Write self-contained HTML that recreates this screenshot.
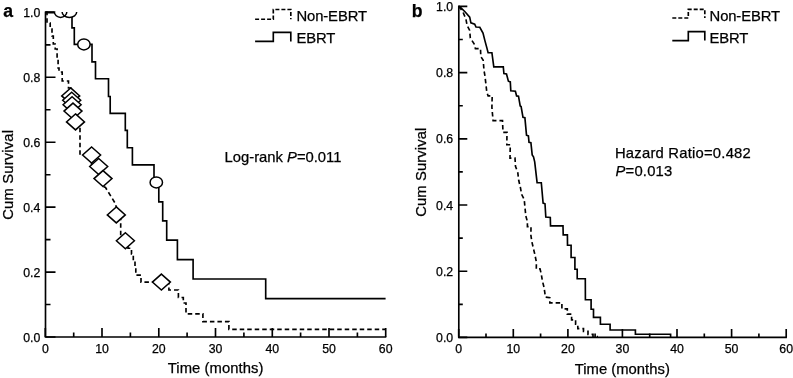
<!DOCTYPE html>
<html><head><meta charset="utf-8"><title>Survival curves</title>
<style>
html,body{margin:0;padding:0;background:#fff;}
svg{display:block;}
text{font-family:"Liberation Sans",Arial,Helvetica,sans-serif;fill:#000;stroke:#000;stroke-width:0.25px;}
.t{font-size:12.3px;}
.l{font-size:14.8px;}
.b{font-size:17.6px;font-weight:bold;}
.ln{fill:none;stroke:#000;stroke-width:1.65;}
.ds{stroke-dasharray:4.5 3;}
.mk{fill:#fff;stroke:#000;stroke-width:1.5;}
</style></head><body>
<svg width="793" height="378" viewBox="0 0 793 378">
<rect width="793" height="378" fill="#fff"/>
<defs><clipPath id="ca"><rect x="40" y="12" width="360" height="330"/></clipPath></defs>

<g id="panel-a">
<path class="ln" d="M45.5,11.475000000000001V337H386.3"/>
<path class="ln" d="M45.5,12.3h10M45.5,44.8h5M45.5,77.2h10M45.5,109.7h5M45.5,142.2h10M45.5,174.7h5M45.5,207.1h10M45.5,239.6h5M45.5,272.1h10M45.5,304.5h5M45.5,337.0h10M45.3,337v-9M73.7,337v-4.5M102.0,337v-9M130.4,337v-4.5M158.8,337v-9M187.1,337v-4.5M215.5,337v-9M243.9,337v-4.5M272.3,337v-9M300.6,337v-4.5M329.0,337v-9M357.4,337v-4.5M385.7,337v-9"/>
<path class="ln ds" d="M45.5,12.3H47V23H50.2V29H52V36H53.3V44H55.2V49H57.1V58H58.1V68H59V72H62.2V81H68.5V88H70.7V96H71.7V100.3H72.1V104.7H73V111.1H75.5V121.9H80V154.9H91.6V166.5H98.7V178.6H103V186.5L105.5,187.5L115,203L116.3,207V214.9H120.7V240.8H128V248.2H131.5V254H133.3V261H135V269H135.8V275.1H141V282.1H168.9V290H178.4V297.5H183.3V303H186V313.8H202.9V321.6H228.9V329.3H385.6"/>
<path class="ln" d="M45.5,12.3H54.6M72,16V27.9H74.3V44.4H92V61.8H95.5V78.7H108.5V96.5H110.2V113.4H125.3V130.4H127.3V147.7H132.4V164.9H154V182.4H158.8V201.8H162.7V220.8H166.7V240.1H177.4V259.6H193.1V279H265.7V298.6H385.6"/>
<g clip-path="url(#ca)"><ellipse fill="#fff" cx="60.6" cy="11.9" rx="6.2" ry="5.5"/><ellipse fill="#fff" cx="69.4" cy="11.9" rx="7.3" ry="5.5"/><ellipse class="mk" style="fill:none" cx="60.6" cy="11.9" rx="6.2" ry="5.5"/><ellipse class="mk" style="fill:none" cx="69.4" cy="11.9" rx="7.3" ry="5.5"/></g>
<path class="ln" d="M45.5,12.3H54.6"/>
<ellipse class="mk" cx="83.9" cy="44.4" rx="6.2" ry="5.5"/>
<ellipse class="mk" cx="156.3" cy="182.4" rx="6.2" ry="5.5"/>
<path class="mk" d="M70.7,87.9L79.7,95.9L70.7,103.9L61.7,95.9Z"/>
<path class="mk" d="M71.7,92.3L80.7,100.3L71.7,108.3L62.7,100.3Z"/>
<path class="mk" d="M72.1,96.7L81.1,104.7L72.1,112.7L63.099999999999994,104.7Z"/>
<path class="mk" d="M73,103.1L82,111.1L73,119.1L64,111.1Z"/>
<path class="mk" d="M75.5,113.9L84.5,121.9L75.5,129.9L66.5,121.9Z"/>
<path class="mk" d="M91.6,147L100.6,155L91.6,163L82.6,155Z"/>
<path class="mk" d="M98.7,158.5L107.7,166.5L98.7,174.5L89.7,166.5Z"/>
<path class="mk" d="M103,170.6L112,178.6L103,186.6L94,178.6Z"/>
<path class="mk" d="M116.3,206.9L125.3,214.9L116.3,222.9L107.3,214.9Z"/>
<path class="mk" d="M125.4,232.8L134.4,240.8L125.4,248.8L116.4,240.8Z"/>
<path class="mk" d="M161.4,274.1L170.4,282.1L161.4,290.1L152.4,282.1Z"/>
<text class="b" x="3.15" y="17.1">a</text>
<text class="t" x="40.4" y="16.9" text-anchor="end">1.0</text>
<text class="t" x="40.4" y="81.8" text-anchor="end">0.8</text>
<text class="t" x="40.4" y="146.8" text-anchor="end">0.6</text>
<text class="t" x="40.4" y="211.7" text-anchor="end">0.4</text>
<text class="t" x="40.4" y="276.7" text-anchor="end">0.2</text>
<text class="t" x="40.4" y="341.6" text-anchor="end">0.0</text>
<text class="t" x="45.3" y="352.5" text-anchor="middle">0</text>
<text class="t" x="102.0" y="352.5" text-anchor="middle">10</text>
<text class="t" x="158.8" y="352.5" text-anchor="middle">20</text>
<text class="t" x="215.5" y="352.5" text-anchor="middle">30</text>
<text class="t" x="272.3" y="352.5" text-anchor="middle">40</text>
<text class="t" x="329.0" y="352.5" text-anchor="middle">50</text>
<text class="t" x="385.7" y="352.5" text-anchor="middle">60</text>
<text class="l" x="167.75" y="373.4" letter-spacing="0.071">Time (months)</text>
<g transform="translate(12.7,175) rotate(-90)"><text class="l" x="-44.75" y="0" letter-spacing="0.159">Cum Survival</text></g>
<path class="ln" stroke-dasharray="4 2" d="M255.1,19.2H273.3V9.5H290.8V19.2"/>
<text class="l" x="296.40" y="20.8" letter-spacing="-0.086">Non-EBRT</text>
<path class="ln" d="M255.1,41.4H273.3V32.3H290.8V41.4"/>
<text class="l" x="296.40" y="43.3" letter-spacing="-0.083">EBRT</text>
<text class="l" x="224.55" y="161.6" letter-spacing="-0.007">Log-rank <tspan font-style="italic">P</tspan>=0.011</text>
</g>
<g id="panel-b">
<path class="ln" d="M458.8,5.575V337.4H786.9"/>
<path class="ln" d="M458.8,6.4h8.5M458.8,39.5h4M458.8,72.6h8.5M458.8,105.7h4M458.8,138.8h8.5M458.8,171.9h4M458.8,205.0h8.5M458.8,238.1h4M458.8,271.2h8.5M458.8,304.3h4M458.8,337.4h8.5M458.7,337.4v-8.5M486.0,337.4v-3.8M513.3,337.4v-8.5M540.6,337.4v-3.8M567.9,337.4v-8.5M595.1,337.4v-3.8M622.4,337.4v-8.5M649.7,337.4v-3.8M677.0,337.4v-8.5M704.3,337.4v-3.8M731.6,337.4v-8.5M758.9,337.4v-3.8M786.2,337.4v-8.5"/>
<polyline class="ln ds" points="458.8,6.4 462.7,11.4 465.9,19 467.1,25.4 469.7,30.5 470.3,38 474.1,43.8 475.4,48.6 480.5,48.6 480.8,56.5 483.2,60.3 484,70.5 484.9,75.5 486,85 486.8,92 488.1,95.9 492.2,95.9 491.9,107.3 492.5,114.3 493.1,120.6 502.5,120.6 503,132.3 507,132.3 506.8,144.7 510.3,144.7 510,158.1 515,158.1 515.5,166.3 517.8,172.7 518.7,180.3 520.4,187.3 521.6,194.3 524.2,199.3 525,207.6 525.8,215.9 527.4,221.6 527.4,226.6 531,226.6 530.9,235.5 531.9,241.9 533.2,247.6 534.9,254.6 536.4,262.2 536.3,268.9 540,268.9 541.2,273.6 542.4,281 544.1,287.6 545.4,297.1 549.8,297.8 549.8,302.8 561.9,302.8 561.9,308.9 567.3,308.9 567.3,314.1 571.6,314.1 571.6,319.8 575.6,319.8 575.6,324.2 577.8,324.2 577.8,328.6 583.5,328.6 583.5,331.3 588,331.3 588,334.4 593,334.4 593,336.6 598,336.6"/>
<polyline class="ln" points="458.8,6.4 460.8,7.6 465.2,12 469.7,17.1 470.9,22.8 474.7,24.1 476,27 479.8,27.3 483,33 484.9,40.6 486.8,47.6 488.1,52.7 491.9,52.7 493.8,66.9 503.3,66.9 503.9,73.6 506.5,74 508.4,81.2 510.3,81.9 510.8,90.8 515.4,91.2 516.6,95.9 518.5,96.2 520.2,106 521.1,106.6 523,117.4 524.9,117.8 526.5,135.2 528.4,135.9 529,142.2 530.9,142.6 532.2,154.9 533.5,156.8 534.7,161.9 537.1,182.6 541.3,182.8 543.1,203.1 545,203.8 545.8,217.1 550.3,217.4 550.5,225.8 563,225.8 563.2,234.9 567.4,234.9 567.5,245.2 571.1,245.2 571.1,257.5 574.9,257.5 574.9,269.2 577.2,269.2 577.2,278.7 585.3,278.7 585.4,299.7 591.1,299.7 591.1,309.2 593.5,309.2 593.5,317.4 600.4,317.4 600.4,324.2 610.1,324.2 610.1,330 635.4,330 635.4,334.2 670.6,334.2 670.6,337.4"/>
<text class="b" x="411.70" y="17.2">b</text>
<text class="t" x="453.2" y="11.0" text-anchor="end">1.0</text>
<text class="t" x="453.2" y="77.2" text-anchor="end">0.8</text>
<text class="t" x="453.2" y="143.4" text-anchor="end">0.6</text>
<text class="t" x="453.2" y="209.6" text-anchor="end">0.4</text>
<text class="t" x="453.2" y="275.8" text-anchor="end">0.2</text>
<text class="t" x="453.2" y="342.0" text-anchor="end">0.0</text>
<text class="t" x="458.7" y="352.6" text-anchor="middle">0</text>
<text class="t" x="513.3" y="352.6" text-anchor="middle">10</text>
<text class="t" x="567.9" y="352.6" text-anchor="middle">20</text>
<text class="t" x="622.4" y="352.6" text-anchor="middle">30</text>
<text class="t" x="677.0" y="352.6" text-anchor="middle">40</text>
<text class="t" x="731.6" y="352.6" text-anchor="middle">50</text>
<text class="t" x="786.2" y="352.6" text-anchor="middle">60</text>
<text class="l" x="574.75" y="374.1" letter-spacing="0.021">Time (months)</text>
<g transform="translate(425.8,172.2) rotate(-90)"><text class="l" x="-44.60" y="0" letter-spacing="0.109">Cum Survival</text></g>
<path class="ln" stroke-dasharray="4 2" d="M672.3,18H688.3V9.4H704.8V18"/>
<text class="l" x="709.55" y="20.9" letter-spacing="-0.107">Non-EBRT</text>
<path class="ln" d="M672.3,40.6H688.3V31.6H704.8V40.6"/>
<text class="l" x="709.55" y="42.8" letter-spacing="-0.150">EBRT</text>
<text class="l" x="614.95" y="158.2" letter-spacing="0.224">Hazard Ratio=0.482</text>
<text class="l" x="615.50" y="175.9" letter-spacing="0.208"><tspan font-style="italic">P</tspan>=0.013</text>
</g>
</svg></body></html>
